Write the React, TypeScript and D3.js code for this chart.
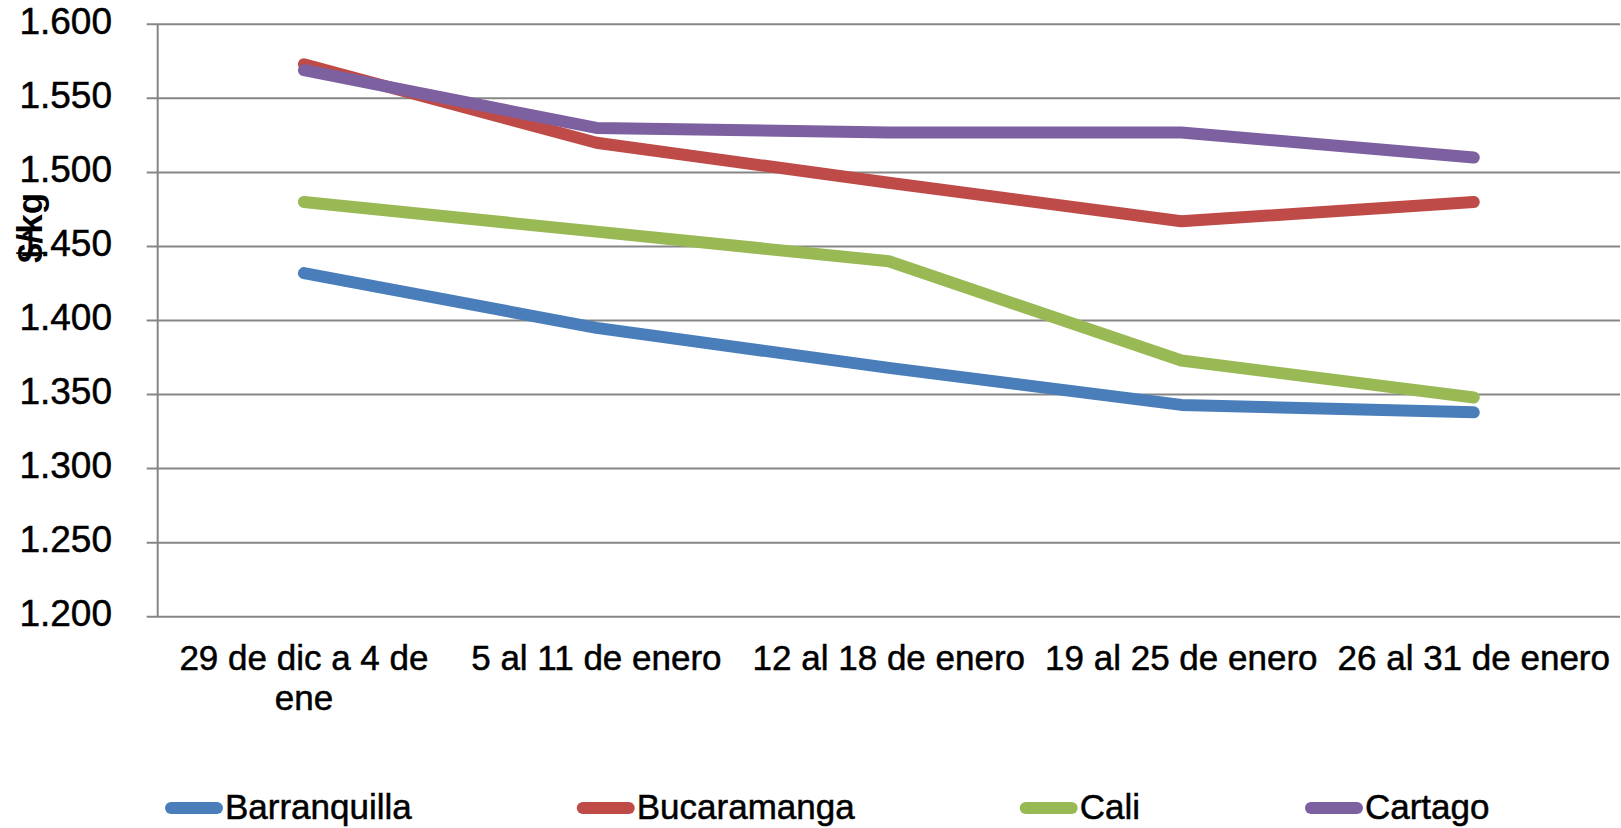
import React from "react";
import * as d3 from "d3";

const categories = [
  "29 de dic a 4 de ene",
  "5 al 11 de enero",
  "12 al 18 de enero",
  "19 al 25 de enero",
  "26 al 31 de enero",
];
const barranquilla = [1.432, 1.395, 1.368, 1.343, 1.338];
const bucaramanga = [1.573, 1.520, 1.493, 1.467, 1.480];
const cali = [1.480, 1.460, 1.440, 1.373, 1.348];
const cartago = [1.569, 1.530, 1.527, 1.527, 1.510];
const seriesNames = ["Barranquilla", "Bucaramanga", "Cali", "Cartago"];
const seriesColors = ["#4A7EBB", "#BE4B48", "#98B954", "#7D60A0"];
const yTicks = [1.2, 1.25, 1.3, 1.35, 1.4, 1.45, 1.5, 1.55, 1.6];

const W = 1621;
const H = 828;
const FONT = "'Liberation Sans', Arial, sans-serif";

function measure(text: string, size: number, weight = "normal") {
  const c = document.createElement("canvas");
  const ctx = c.getContext("2d")!;
  ctx.font = `${weight} ${size}px 'Liberation Sans', Arial, sans-serif`;
  return ctx.measureText(text).width;
}

function wrap(text: string, maxW: number, size: number) {
  const words = text.split(" ");
  const lines: string[] = [];
  let cur = "";
  for (const w of words) {
    const t = cur ? cur + " " + w : w;
    if (measure(t, size) > maxW && cur) {
      lines.push(cur);
      cur = w;
    } else cur = t;
  }
  if (cur) lines.push(cur);
  return lines;
}

export default function App() {
  const left = 157.7;
  const right = 1620;
  const top = 24.3;
  const bottom = 616.7;
  const x = d3.scaleBand<string>().domain(categories).range([left, right]);
  const y = d3.scaleLinear().domain([1.2, 1.6]).range([bottom, top]);
  const data = [barranquilla, bucaramanga, cali, cartago];
  const line = d3
    .line<number>()
    .x((_, i) => x(categories[i])! + x.bandwidth() / 2)
    .y((d) => y(d));
  const fmt = (v: number) => d3.format(".3f")(v);

  const labelSize = 35;
  const legendStarts = [165];
  const swatchW = 58;
  const legendGap = 165;
  for (let i = 1; i < seriesNames.length; i++) {
    const prev = legendStarts[i - 1];
    legendStarts.push(prev + swatchW + 2 + measure(seriesNames[i - 1], labelSize) + legendGap);
  }
  const textStroke = { stroke: "#000", strokeWidth: 0.5 };

  return (
    <svg
      width={W}
      height={H}
      style={{ position: "absolute", left: 0, top: 0, background: "#fff" }}
      fontFamily={FONT}
    >
      <rect width={W} height={H} fill="#fff" />
      {yTicks.map((t) => (
        <g key={t}>
          <line x1={146.7} x2={right} y1={y(t)} y2={y(t)} stroke="#868686" strokeWidth={2} />
          <text
            x={112}
            y={y(t)}
            textAnchor="end"
            dominantBaseline="middle"
            fontSize={37}
            fill="#000"
            {...textStroke}
          >
            {fmt(t)}
          </text>
        </g>
      ))}
      <line x1={left} x2={left} y1={top} y2={bottom} stroke="#868686" strokeWidth={2} />
      <text
        transform={`translate(42,228) rotate(-90)`}
        textAnchor="middle"
        fontSize={35}
        fontWeight="bold"
        fill="#000"
      >
        $/kg
      </text>
      {categories.map((c) => {
        const lines = wrap(c, x.bandwidth() - 20, labelSize);
        return (
          <text
            key={c}
            x={x(c)! + x.bandwidth() / 2}
            y={670}
            textAnchor="middle"
            fontSize={labelSize}
            fill="#000"
            {...textStroke}
          >
            {lines.map((l, i) => (
              <tspan key={i} x={x(c)! + x.bandwidth() / 2} dy={i === 0 ? 0 : 40}>
                {l}
              </tspan>
            ))}
          </text>
        );
      })}
      {data.map((d, i) => (
        <path
          key={seriesNames[i]}
          d={line(d)!}
          fill="none"
          stroke={seriesColors[i]}
          strokeWidth={12}
          strokeLinecap="round"
          strokeLinejoin="round"
        />
      ))}
      {seriesNames.map((n, i) => (
        <g key={n}>
          <line
            x1={legendStarts[i] + 6}
            x2={legendStarts[i] + swatchW - 6}
            y1={808}
            y2={808}
            stroke={seriesColors[i]}
            strokeWidth={12}
            strokeLinecap="round"
          />
          <text
            x={legendStarts[i] + swatchW + 2}
            y={819}
            fontSize={labelSize}
            fill="#000"
            {...textStroke}
          >
            {n}
          </text>
        </g>
      ))}
    </svg>
  );
}
